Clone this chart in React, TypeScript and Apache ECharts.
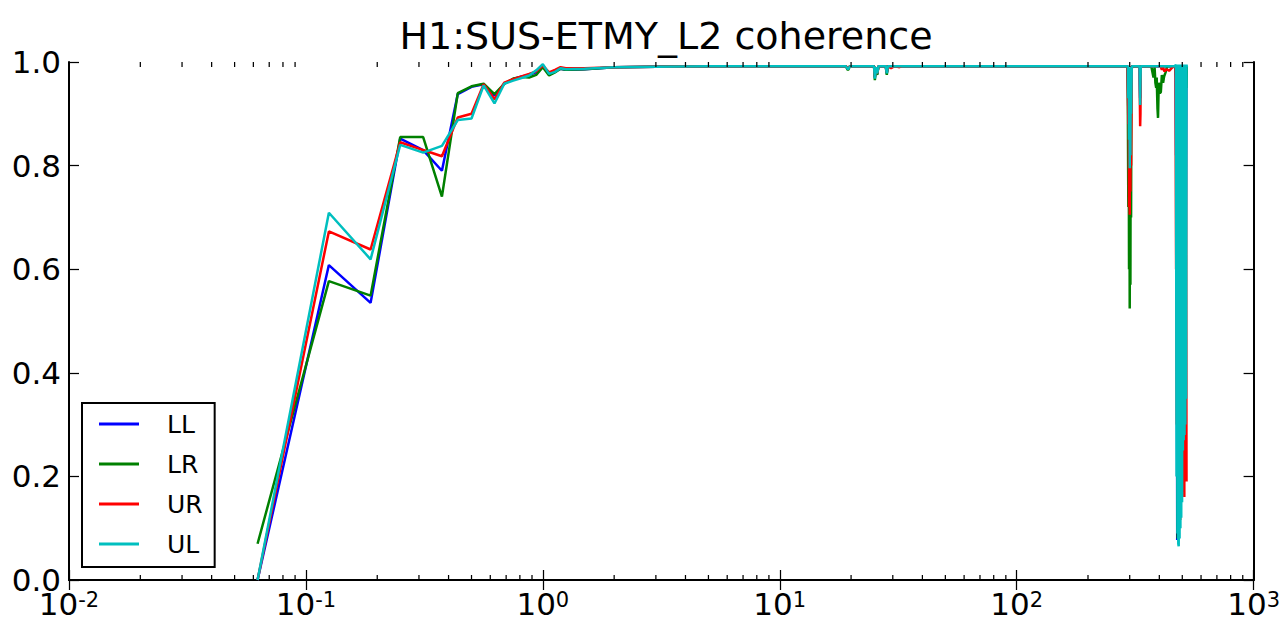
import React, { useEffect, useRef } from "react";
import * as echarts from "echarts";

const TITLE = "H1:SUS-ETMY_L2 coherence";
const SERIES_NAMES = ["LL", "LR", "UR", "UL"];
const COLORS = ["#0000ff", "#008000", "#ff0000", "#00bfbf"];

const X_MIN = 0.01;
const X_MAX = 1000;
const Y_MIN = 0;
const Y_MAX = 1;
const Y_STEP = 0.2;

const MINOR_DECADES = [0.01, 0.1, 1, 10, 100];
const MINOR_MULTS = [2, 3, 4, 5, 6, 7, 8, 9];

// [frequency (Hz), coherence]
const LL: [number, number][] = [
  [0.0625, 0.0], [0.125, 0.608], [0.1875, 0.535], [0.25, 0.852], [0.3125, 0.83], [0.375, 0.79],
  [0.4375, 0.938], [0.5, 0.952], [0.5625, 0.957], [0.625, 0.935], [0.6875, 0.958], [0.75, 0.967],
  [0.8125, 0.972], [0.875, 0.975], [0.9375, 0.98], [1.0, 0.993], [1.0625, 0.977], [1.125, 0.982],
  [1.1875, 0.987], [1.25, 0.985], [1.5, 0.986], [2, 0.99], [3, 0.991], [5, 0.992], [10, 0.992],
  [19, 0.992], [19.4, 0.986], [19.8, 0.992], [25, 0.992], [25.2, 0.97], [25.5, 0.99], [25.8, 0.977],
  [26.1, 0.992], [28, 0.992], [28.3, 0.978], [28.6, 0.992], [50, 0.992], [100, 0.992], [200, 0.992],
  [294, 0.992], [296, 0.9], [298, 0.8], [300, 0.82], [302, 0.85], [304, 0.95], [306, 0.992],
  [330, 0.992], [332, 0.93], [334, 0.992], [400, 0.992], [466, 0.992], [469, 0.97], [471, 0.82],
  [473, 0.97], [476, 0.077], [480, 0.99], [485, 0.1], [490, 0.99], [495, 0.2], [500, 0.99],
  [505, 0.3], [510, 0.99], [515, 0.3], [520, 0.99],
];

const LR: [number, number][] = [
  [0.0625, 0.07], [0.125, 0.577], [0.1875, 0.549], [0.25, 0.855], [0.3125, 0.855], [0.375, 0.74],
  [0.4375, 0.94], [0.5, 0.953], [0.5625, 0.958], [0.625, 0.938], [0.6875, 0.958], [0.75, 0.968],
  [0.8125, 0.971], [0.875, 0.97], [0.9375, 0.975], [1.0, 0.99], [1.0625, 0.974], [1.125, 0.98],
  [1.1875, 0.987], [1.25, 0.985], [1.5, 0.986], [2, 0.99], [3, 0.991], [5, 0.992], [10, 0.992],
  [19, 0.992], [19.4, 0.984], [19.8, 0.992], [25, 0.992], [25.2, 0.965], [25.5, 0.99], [25.8, 0.975],
  [26.1, 0.992], [28, 0.992], [28.3, 0.975], [28.6, 0.992], [50, 0.992], [100, 0.992], [200, 0.992],
  [294, 0.992], [296, 0.72], [297, 0.95], [298, 0.6], [299, 0.9], [300, 0.524], [301, 0.88],
  [302, 0.57], [303, 0.95], [304, 0.7], [305, 0.98], [307, 0.992], [370, 0.992], [378, 0.97],
  [382, 0.99], [385, 0.96], [388, 0.95], [390, 0.97], [392, 0.93], [393, 0.91], [395, 0.892],
  [397, 0.94], [398, 0.96], [402, 0.94], [406, 0.942], [410, 0.975], [415, 0.96], [419, 0.972],
  [425, 0.98], [432, 0.992], [466, 0.992], [470, 0.98], [474, 0.95], [478, 0.08], [482, 0.99],
  [486, 0.15], [490, 0.99], [495, 0.3], [500, 0.99], [505, 0.4], [510, 0.99], [515, 0.5],
  [518, 0.99], [520, 0.95], [522, 0.99],
];

const UR: [number, number][] = [
  [0.0625, 0.0], [0.125, 0.673], [0.1875, 0.638], [0.25, 0.845], [0.3125, 0.83], [0.375, 0.818],
  [0.4375, 0.893], [0.5, 0.9], [0.5625, 0.957], [0.625, 0.928], [0.6875, 0.96], [0.75, 0.967],
  [0.8125, 0.972], [0.875, 0.977], [0.9375, 0.982], [1.0, 0.993], [1.0625, 0.98], [1.125, 0.985],
  [1.1875, 0.99], [1.25, 0.988], [1.5, 0.988], [2, 0.99], [3, 0.991], [5, 0.992], [10, 0.992],
  [19, 0.992], [19.4, 0.988], [19.8, 0.992], [25, 0.992], [25.2, 0.972], [25.5, 0.99], [25.8, 0.978],
  [26.1, 0.992], [28, 0.992], [28.3, 0.98], [28.6, 0.992], [29.5, 0.988], [30.5, 0.992], [32, 0.99],
  [33, 0.992], [50, 0.992], [100, 0.992], [200, 0.992], [294, 0.992], [296, 0.88], [297, 0.97],
  [298, 0.72], [299, 0.96], [300, 0.705], [301, 0.96], [302, 0.75], [303, 0.98], [304, 0.8],
  [306, 0.992], [330, 0.992], [332, 0.876], [333, 0.9], [334, 0.992], [405, 0.992], [410, 0.985],
  [415, 0.99], [420, 0.982], [430, 0.986], [440, 0.983], [455, 0.99], [466, 0.992], [468, 0.99],
  [471, 0.6], [472, 0.99], [474, 0.3], [476, 0.99], [480, 0.4], [484, 0.99], [488, 0.2],
  [490, 0.116], [492, 0.99], [496, 0.3], [500, 0.99], [504, 0.17], [506, 0.99], [510, 0.16],
  [512, 0.99], [516, 0.19], [518, 0.95], [521, 0.19],
];

const UL: [number, number][] = [
  [0.0625, 0.0], [0.125, 0.709], [0.1875, 0.619], [0.25, 0.84], [0.3125, 0.825], [0.375, 0.838],
  [0.4375, 0.888], [0.5, 0.891], [0.5625, 0.955], [0.625, 0.92], [0.6875, 0.958], [0.75, 0.964],
  [0.8125, 0.969], [0.875, 0.974], [0.9375, 0.984], [1.0, 0.996], [1.0625, 0.977], [1.125, 0.981],
  [1.1875, 0.988], [1.25, 0.986], [1.5, 0.987], [2, 0.99], [3, 0.991], [5, 0.992], [10, 0.992],
  [19, 0.992], [19.4, 0.986], [19.8, 0.992], [25, 0.992], [25.2, 0.968], [25.5, 0.99], [25.8, 0.978],
  [26.1, 0.992], [28, 0.992], [28.3, 0.978], [28.6, 0.992], [50, 0.992], [100, 0.992], [200, 0.992],
  [294, 0.992], [295, 0.99], [296, 0.93], [297, 0.99], [298, 0.85], [299, 0.98], [300, 0.795],
  [301, 0.97], [302, 0.82], [303, 0.99], [304, 0.9], [306, 0.992], [330, 0.992], [331, 0.95],
  [332, 0.917], [333, 0.96], [334, 0.992], [466, 0.992], [470, 0.995], [473, 0.2], [475, 0.995],
  [477, 0.09], [479, 0.995], [481, 0.07], [483, 0.065], [485, 0.995], [487, 0.08], [489, 0.995],
  [491, 0.1], [493, 0.995], [495, 0.12], [497, 0.995], [499, 0.15], [501, 0.995], [503, 0.25],
  [505, 0.995], [507, 0.27], [509, 0.995], [511, 0.28], [513, 0.995], [515, 0.3], [517, 0.995],
  [519, 0.35], [521, 0.995], [523, 0.99],
];

const SERIES_DATA = [LL, LR, UR, UL];

const FONT = "DejaVu Sans";

export default function App() {
  const ref = useRef<HTMLDivElement>(null);

  useEffect(() => {
    if (!ref.current) return;
    const chart = echarts.init(ref.current, null, { renderer: "svg" });

    const minorTicks: number[][] = [];
    MINOR_DECADES.forEach((d) => MINOR_MULTS.forEach((m) => minorTicks.push([d * m, 0])));

    const axisLine = { show: true, lineStyle: { color: "#000", width: 2 } };
    const tickStyle = { color: "#000", width: 1.25 };

    const xCommon = {
      type: "log" as const,
      logBase: 10,
      min: X_MIN,
      max: X_MAX,
      splitNumber: 5,
      axisLine,
      axisTick: { show: true, inside: true, length: 10, lineStyle: tickStyle },
      splitLine: { show: false },
      minorTick: { show: false },
    };
    const yCommon = {
      type: "value" as const,
      min: Y_MIN,
      max: Y_MAX,
      interval: Y_STEP,
      axisLine,
      axisTick: { show: true, inside: true, length: 10, lineStyle: tickStyle },
      splitLine: { show: false },
    };

    const option: any = {
      animation: false,
      backgroundColor: "#fff",
      grid: { left: 69, right: 24, top: 62, bottom: 48, containLabel: false },
      graphic: [
        {
          type: "text",
          x: 666,
          y: 36,
          style: {
            text: TITLE,
            fontSize: 38,
            fontFamily: FONT,
            fill: "#000",
            align: "center",
            verticalAlign: "middle",
            textAlign: "center",
            textVerticalAlign: "middle",
          },
        },
      ],
      legend: {
        data: SERIES_NAMES,
        orient: "vertical",
        left: 82,
        top: 403,
        padding: [7, 12, 9, 17],
        itemGap: 12,
        itemWidth: 40,
        itemHeight: 3,
        icon: "rect",
        borderColor: "#000",
        borderWidth: 2,
        borderRadius: 0,
        backgroundColor: "#fff",
        selectedMode: false,
        textStyle: {
          fontFamily: FONT,
          fontSize: 25,
          color: "#000",
          lineHeight: 28,
          padding: [0, 0, 0, 23],
        },
      },
      xAxis: [
        {
          ...xCommon,
          position: "bottom",
          axisLabel: {
            show: true,
            margin: 9,
            formatter: (v: number) => `{b|10}{s|${Math.round(Math.log10(v))}}`,
            rich: {
              b: { fontFamily: FONT, fontSize: 31, color: "#000", lineHeight: 30, padding: [7, 0, 0, 0], verticalAlign: "bottom" },
              s: { fontFamily: FONT, fontSize: 21, color: "#000", lineHeight: 21, verticalAlign: "top" },
            },
          },
        },
        {
          ...xCommon,
          position: "top",
          axisLabel: { show: false },
        },
      ],
      yAxis: [
        {
          ...yCommon,
          position: "left",
          axisLabel: {
            show: true,
            margin: 8,
            fontFamily: FONT,
            fontSize: 31,
            lineHeight: 20,
            color: "#000",
            formatter: (v: number) => v.toFixed(1),
          },
        },
        {
          ...yCommon,
          position: "right",
          axisLabel: { show: false },
        },
      ],
      series: [
        ...SERIES_NAMES.map((name, i) => ({
          name,
          type: "line",
          xAxisIndex: 0,
          yAxisIndex: 0,
          data: SERIES_DATA[i],
          showSymbol: false,
          symbol: "none",
          silent: true,
          clip: true,
          color: COLORS[i],
          lineStyle: { color: COLORS[i], width: 2.5 },
          itemStyle: { color: COLORS[i] },
          emphasis: { disabled: true },
          z: 2 + i * 0.01,
        })),
        {
          name: "minorTicks",
          type: "custom",
          xAxisIndex: 0,
          yAxisIndex: 0,
          silent: true,
          clip: false,
          z: 5,
          data: minorTicks,
          renderItem: (_params: any, api: any) => {
            const x = api.value(0);
            const b = api.coord([x, Y_MIN]);
            const t = api.coord([x, Y_MAX]);
            const st = { stroke: "#000", lineWidth: 1.25 };
            return {
              type: "group",
              children: [
                { type: "line", shape: { x1: b[0], y1: b[1], x2: b[0], y2: b[1] - 5 }, style: st },
                { type: "line", shape: { x1: t[0], y1: t[1], x2: t[0], y2: t[1] + 5 }, style: st },
              ],
            };
          },
        },
      ],
    };

    chart.setOption(option);
    return () => chart.dispose();
  }, []);

  return (
    <div
      ref={ref}
      style={{ position: "absolute", left: 0, top: 0, width: 1283, height: 628, background: "#fff" }}
    />
  );
}
